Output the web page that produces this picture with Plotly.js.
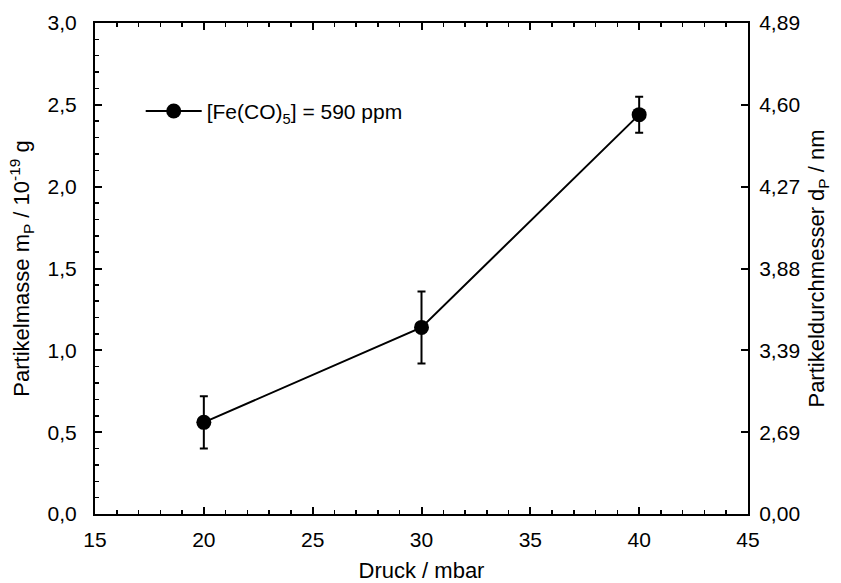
<!DOCTYPE html>
<html>
<head>
<meta charset="utf-8">
<script src="https://cdn.plot.ly/plotly-3.0.1.min.js"></script>
<style>html,body{margin:0;padding:0;background:#fff;}#plot{width:841px;height:583px;}</style>
</head>
<body>
<div id="plot"></div>
<script>
const pressure = [20, 30, 40];
const mass = [0.56, 1.14, 2.44];
const massErr = [0.16, 0.22, 0.11];
const rightTickVals = [0, 0.5, 1.0, 1.5, 2.0, 2.5, 3.0];
const rightTickText = ['0,00', '2,69', '3,39', '3,88', '4,27', '4,60', '4,89'];
const seriesName = '[Fe(CO)<sub>5</sub>] = 590 ppm';

const font = {family: 'Liberation Sans, Arial, sans-serif', size: 21, color: '#000'};
const titleFont = {family: 'Liberation Sans, Arial, sans-serif', size: 22, color: '#000'};

const traces = [
  {
    x: pressure, y: mass, type: 'scatter', mode: 'lines+markers', name: seriesName,
    line: {color: '#000', width: 2},
    marker: {color: '#000', size: 15},
    error_y: {type: 'data', array: massErr, visible: true, color: '#000', thickness: 2, width: 4}
  },
  {
    x: pressure, y: mass, yaxis: 'y2', type: 'scatter', mode: 'markers',
    marker: {opacity: 0}, showlegend: false, hoverinfo: 'skip'
  }
];

const layout = {
  width: 841, height: 583,
  margin: {l: 95, r: 93, t: 23, b: 69},
  paper_bgcolor: '#fff', plot_bgcolor: '#fff',
  separators: ',.',
  font: font,
  showlegend: true,
  legend: {x: 0.07, y: 0.82, xanchor: 'left', yanchor: 'middle', bgcolor: 'rgba(0,0,0,0)', font: font, itemwidth: 56},
  xaxis: {
    range: [15, 45], dtick: 5, tick0: 15,
    showgrid: false, zeroline: false,
    showline: true, linecolor: '#000', linewidth: 2, mirror: 'ticks',
    ticks: 'inside', ticklen: 7, tickwidth: 2, tickcolor: '#000',
    minor: {dtick: 1, ticks: 'inside', ticklen: 4, tickwidth: 1.5, tickcolor: '#000', showgrid: false},
    ticklabelstandoff: 6,
    title: {text: 'Druck / mbar', font: titleFont, standoff: 16}
  },
  yaxis: {
    range: [0, 3], dtick: 0.5, tick0: 0, tickformat: '.1f',
    showgrid: false, zeroline: false,
    showline: true, linecolor: '#000', linewidth: 2,
    ticks: 'inside', ticklen: 7, tickwidth: 2, tickcolor: '#000',
    minor: {dtick: 0.1, ticks: 'inside', ticklen: 4, tickwidth: 1.5, tickcolor: '#000', showgrid: false},
    ticklabelstandoff: 12,
    title: {text: 'Partikelmasse m<sub>P</sub> / 10<sup>-19</sup> g', font: titleFont, standoff: 12}
  },
  yaxis2: {
    overlaying: 'y', side: 'right', range: [0, 3],
    tickmode: 'array', tickvals: rightTickVals, ticktext: rightTickText,
    showgrid: false, zeroline: false,
    showline: true, linecolor: '#000', linewidth: 2,
    ticks: 'inside', ticklen: 7, tickwidth: 2, tickcolor: '#000',
    ticklabelstandoff: 5,
    title: {text: 'Partikeldurchmesser d<sub>P</sub> / nm', font: titleFont, standoff: 10}
  }
};

Plotly.newPlot('plot', traces, layout, {displayModeBar: false, staticPlot: true});
</script>
</body>
</html>
